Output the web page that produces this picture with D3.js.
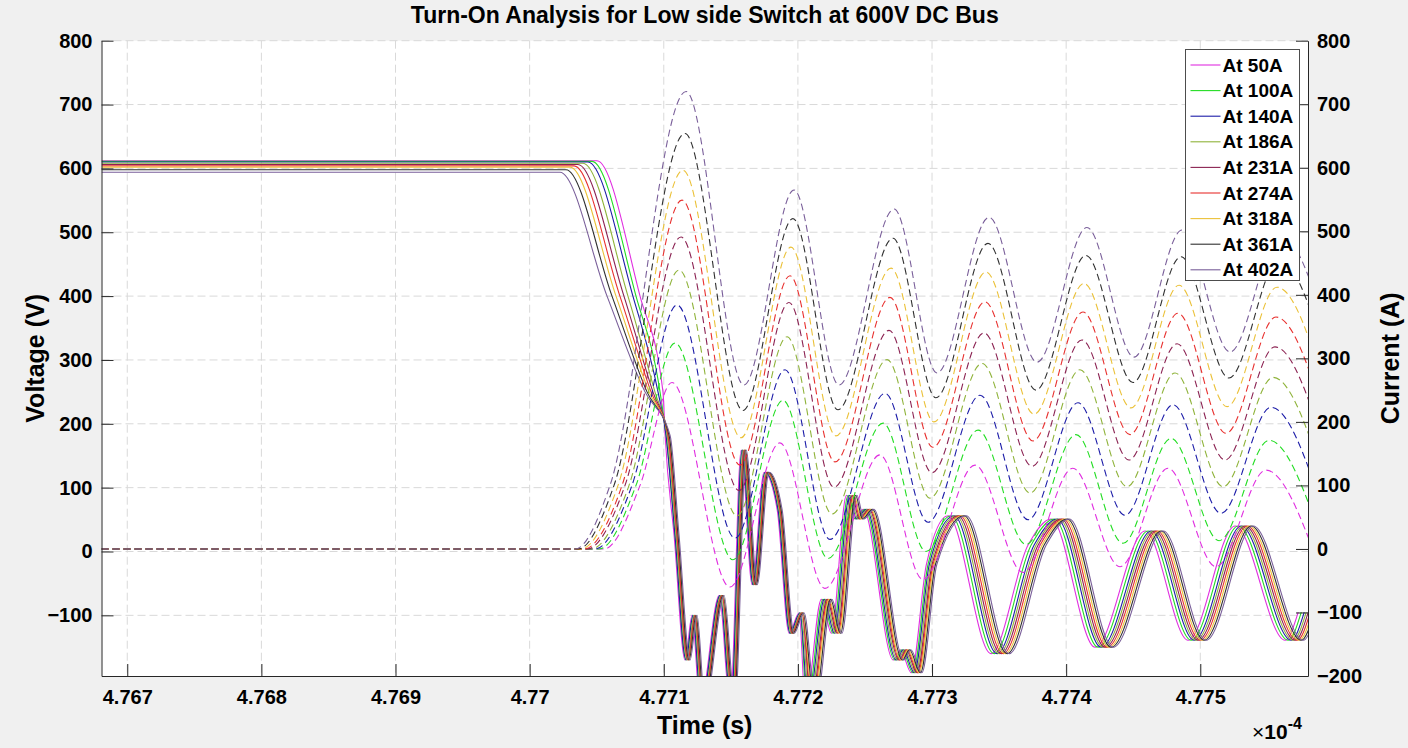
<!DOCTYPE html>
<html>
<head>
<meta charset="utf-8">
<script src="https://cdn.jsdelivr.net/npm/d3@7"></script>
<style>
	html, body { margin: 0; padding: 0; background: #f0f0f0; }
	svg { display: block; font-family: "Liberation Sans", Arial, Helvetica, sans-serif; }
	.axis text { font-weight: bold; font-size: 20px; fill: #000; }
	.axis path, .axis line { stroke: #262626; stroke-width: 1; }
	.grid line { stroke: #d9d9d9; stroke-dasharray: 8,4; }
</style>
</head>
<body>
<script>
'use strict';

// ---- chart data (time in units of 1e-4 s) ----
const labels = ["At 50A", "At 100A", "At 140A", "At 186A", "At 231A", "At 274A", "At 318A", "At 361A", "At 402A"];
const colors = ["#e02ee0", "#22dd22", "#1c1ca8", "#8fb33a", "#8b2252", "#e8312f", "#ebc138", "#303030", "#7a5f9a"];

const tRange = [4.766808, 4.775803];
const xTicks = [4.767, 4.768, 4.769, 4.770, 4.771, 4.772, 4.773, 4.774, 4.775];
const vRange = [-195, 800];
const vTicks = [-100, 0, 100, 200, 300, 400, 500, 600, 700, 800];
const iRange = [-200, 800];
const iTicks = [-200, -100, 0, 100, 200, 300, 400, 500, 600, 700, 800];

// voltage: plateau level, start of fall, time passing 400 V, time passing 250 V
const vPlateau = [612, 611, 610, 608, 606, 604, 602, 598, 594];
const vKnee = [4.770502, 4.770465, 4.770435, 4.770398, 4.770360, 4.770331, 4.770301, 4.770271, 4.770226];
const vAt400 = [4.770823, 4.770793, 4.770770, 4.770733, 4.770703, 4.770673, 4.770644, 4.770614, 4.770577];
const vAt250 = [4.770994, 4.770972, 4.770957, 4.770934, 4.770919, 4.770905, 4.770890, 4.770875, 4.770860];

// voltage ringing after the drop (middle trace), shared by the bundle
const vRingT = [4.771032, 4.771099, 4.771181, 4.771233, 4.771293, 4.771435, 4.771517, 4.771599, 4.771681,
	4.771770, 4.771867, 4.771957, 4.772031, 4.772106, 4.772225, 4.772300, 4.772412, 4.772464, 4.772538,
	4.772762, 4.772814, 4.772896, 4.773008, 4.773209, 4.773530, 4.773806, 4.773978, 4.774306, 4.774679,
	4.774999, 4.775350, 4.775723, 4.775820];
const vRingV = [182, 25, -170, -100, -240, -69, -240, 159, -52,
	124, 66, -128, -96, -240, -75, -128, 88, 51, 66,
	-170, -154, -190, -20, 56, -160, 10, 51, -150, 32,
	-139, 40, -139, -95];
// time shift of each trace against the middle one (early / middle / late part of the ring)
const vLagEarly = [-0.000022, -0.000015, -0.000015, -0.0000075, 0, 0, 0.0000075, 0.0000075, 0.000015];
const vLagMid = [-0.00005, -0.000038, -0.000028, -0.000018, -0.0000075, 0, 0.0000075, 0.000018, 0.000028];
const vLagLate = [-0.00009, -0.000067, -0.000045, -0.00003, -0.000015, 0, 0.000015, 0.00003, 0.000045];
const lagBreaks = [4.7721, 4.7732];

// current: start of rise, time passing 100 A
const iStart = [4.770555, 4.770518, 4.770488, 4.770458, 4.770428, 4.770406, 4.770383, 4.770361, 4.770339];
const iAt100 = [4.770823, 4.770793, 4.770763, 4.770741, 4.770711, 4.770689, 4.770659, 4.770629, 4.770599];
// current peaks / troughs
const iTimes = [4.771136, 4.771568, 4.771941, 4.772276, 4.772687, 4.773007, 4.773395,
	4.773753, 4.774125, 4.774476, 4.774834, 4.775192, 4.775564, 4.775952];
const iLead = [-0.000075, -0.000052, -0.000037, -0.000022, -0.0000075, 0, 0.0000075, 0.000022, 0.00003];
const iVals = [
	[262, -60, 167, -62, 148, -48, 132, -37, 127, -28, 127, -28, 124, -22],
	[324, -17, 234, -15, 198, -4, 187, 7, 180, 9, 174, 13, 171, 18],
	[384, 17, 282, 15, 245, 42, 242, 46, 230, 53, 227, 56, 223, 62],
	[439, 52, 334, 55, 298, 80, 292, 88, 282, 98, 277, 98, 270, 105],
	[491, 92, 388, 97, 344, 120, 340, 130, 329, 140, 323, 140, 318, 148],
	[549, 132, 430, 137, 396, 160, 389, 170, 373, 180, 371, 182, 365, 190],
	[596, 175, 475, 178, 442, 200, 436, 212, 418, 222, 415, 224, 412, 232],
	[654, 218, 520, 219, 489, 238, 481, 250, 462, 262, 460, 269, 455, 275],
	[720, 258, 565, 258, 535, 277, 522, 294, 506, 302, 502, 310, 495, 315]
];

const params = {
	width: 1408,
	height: 748,
	left: 101.5,
	top: 40.7,
	plotW: 1206.5,
	plotH: 635.3
};

// Build point lists for every trace
const voltageTrace = (k) => {
	const pts = [[tRange[0], vPlateau[k]], [vKnee[k], vPlateau[k]], [vAt400[k], 400], [vAt250[k], 250]];
	vRingT.forEach((t, j) => {
		let lag = vLagLate[k];
		if (t < lagBreaks[0]) lag = vLagEarly[k];
		else if (t < lagBreaks[1]) lag = vLagMid[k];
		pts.push([t + lag, vRingV[j]]);
	});
	return pts;
}

const currentTrace = (k) => {
	const pts = [[tRange[0], 0], [iStart[k], 0], [iAt100[k], 100]];
	iTimes.forEach((t, j) => pts.push([t + iLead[k], iVals[k][j]]));
	return pts;
}

const makeContainer = (params) => {
	const svg = d3.select("body").append("svg")
		.attr("width", params.width)
		.attr("height", params.height);
	svg.append("rect")
		.attr("width", params.width).attr("height", params.height)
		.attr("fill", "#f0f0f0");
	const plot = svg.append("g")
		.attr("transform", `translate(${params.left},${params.top})`);
	plot.append("rect")
		.attr("width", params.plotW).attr("height", params.plotH)
		.attr("fill", "#fff");
	svg.append("defs").append("clipPath").attr("id", "clip")
		.append("rect").attr("width", params.plotW).attr("height", params.plotH);
	return [svg, plot];
}

const makeScales = (params) => {
	const x = d3.scaleLinear().domain(tRange).range([0, params.plotW]);
	const yV = d3.scaleLinear().domain(vRange).range([params.plotH, 0]);
	const yI = d3.scaleLinear().domain(iRange).range([params.plotH, 0]);
	return [x, yV, yI];
}

const addGrid = (plot, x, yV, params) => {
	const g = plot.append("g").attr("class", "grid");
	g.selectAll(".gx").data(xTicks).join("line")
		.attr("x1", d => x(d)).attr("x2", d => x(d))
		.attr("y1", 0).attr("y2", params.plotH);
	g.selectAll(".gy").data(vTicks).join("line")
		.attr("x1", 0).attr("x2", params.plotW)
		.attr("y1", d => yV(d)).attr("y2", d => yV(d));
}

const addAxes = (plot, x, yV, yI, params) => {
	plot.append("g").attr("class", "axis")
		.attr("transform", `translate(0,${params.plotH})`)
		.call(d3.axisBottom(x).tickValues(xTicks)
			.tickFormat(d => String(+d.toFixed(3)))
			.tickSizeInner(-12).tickSizeOuter(0).tickPadding(14));
	plot.append("g").attr("class", "axis")
		.call(d3.axisLeft(yV).tickValues(vTicks)
			.tickSizeInner(-12).tickSizeOuter(0).tickPadding(9));
	plot.append("g").attr("class", "axis")
		.attr("transform", `translate(${params.plotW},0)`)
		.call(d3.axisRight(yI).tickValues(iTicks)
			.tickSizeInner(-12).tickSizeOuter(0).tickPadding(9));
}

const drawTraces = (plot, x, yV, yI) => {
	const g = plot.append("g").attr("clip-path", "url(#clip)").attr("fill", "none");
	const lineV = d3.line().x(d => x(d[0])).y(d => yV(d[1])).curve(d3.curveMonotoneX);
	const lineI = d3.line().x(d => x(d[0])).y(d => yI(d[1])).curve(d3.curveMonotoneX);

	g.selectAll(".volt").data(labels).join("path")
		.attr("class", "volt")
		.attr("stroke", (d, k) => colors[k])
		.attr("stroke-width", 1.1)
		.attr("d", (d, k) => lineV(voltageTrace(k)));

	g.selectAll(".curr").data(labels).join("path")
		.attr("class", "curr")
		.attr("stroke", (d, k) => colors[k])
		.attr("stroke-width", 1.1)
		.attr("stroke-dasharray", "7,4")
		.attr("d", (d, k) => lineI(currentTrace(k)));
}

const addLegend = (svg) => {
	const lg = svg.append("g").attr("transform", "translate(1185.5,49.5)");
	lg.append("rect")
		.attr("width", 114).attr("height", 231)
		.attr("fill", "#fff").attr("stroke", "#4d4d4d");
	const rows = lg.selectAll(".row").data(labels).join("g")
		.attr("transform", (d, k) => `translate(0,${15.5 + k * 25.6})`);
	rows.append("line")
		.attr("x1", 5).attr("x2", 35)
		.attr("stroke", (d, k) => colors[k]).attr("stroke-width", 1.1);
	rows.append("text")
		.attr("x", 37).attr("dy", "0.35em")
		.attr("font-size", 19).attr("font-weight", "bold")
		.text(d => d);
}

const addLabels = (svg, params) => {
	const cx = params.left + params.plotW / 2;
	const cy = params.top + params.plotH / 2;
	svg.append("text")
		.attr("x", cx).attr("y", 23)
		.attr("text-anchor", "middle")
		.attr("font-size", 23).attr("font-weight", "bold")
		.text("Turn-On Analysis for Low side Switch at 600V DC Bus");
	svg.append("text")
		.attr("x", cx).attr("y", 734)
		.attr("text-anchor", "middle")
		.attr("font-size", 25).attr("font-weight", "bold")
		.text("Time (s)");
	svg.append("text")
		.attr("transform", `translate(44,${cy}) rotate(-90)`)
		.attr("text-anchor", "middle")
		.attr("font-size", 25).attr("font-weight", "bold")
		.text("Voltage (V)");
	svg.append("text")
		.attr("transform", `translate(1399,${cy}) rotate(-90)`)
		.attr("text-anchor", "middle")
		.attr("font-size", 25).attr("font-weight", "bold")
		.text("Current (A)");
	const ex = svg.append("text")
		.attr("x", 1252).attr("y", 739)
		.attr("font-size", 21);
	ex.append("tspan").text("\u00d7");
	ex.append("tspan").attr("font-weight", "bold").text("10");
	ex.append("tspan").attr("font-weight", "bold").attr("font-size", 16)
		.attr("dy", -10).text("-4");
}

const [svg, plot] = makeContainer(params);
const [x, yV, yI] = makeScales(params);
addGrid(plot, x, yV, params);
drawTraces(plot, x, yV, yI);
addAxes(plot, x, yV, yI, params);
addLegend(svg);
addLabels(svg, params);
</script>
</body>
</html>
